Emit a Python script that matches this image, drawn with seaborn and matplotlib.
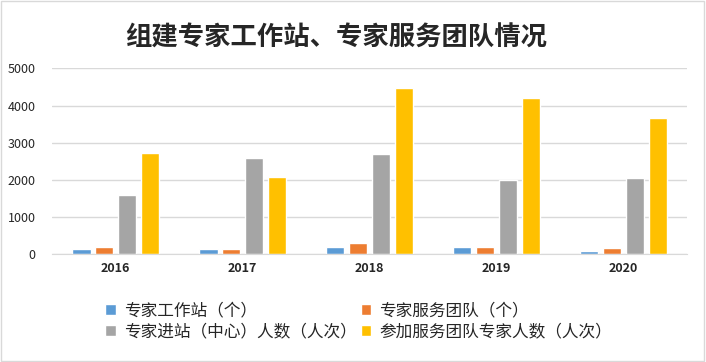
import numpy as np
import matplotlib
matplotlib.use("Agg")
import matplotlib.pyplot as plt
import pandas as pd
import seaborn as sns

# Data
years = ['2016', '2017', '2018', '2019', '2020']
series_names = ['专家工作站（个）', '专家服务团队（个）', '专家进站（中心）人数（人次）', '参加服务团队专家人数（人次）']
stations = [140, 140, 190, 190, 80]
teams = [190, 140, 305, 190, 160]
entrants = [1590, 2590, 2695, 1995, 2050]
team_experts = [2720, 2075, 4470, 4200, 3660]
colors = ['#5B9BD5', '#ED7D31', '#A5A5A5', '#FFC000']

rows = []
for name, vals in zip(series_names, [stations, teams, entrants, team_experts]):
    for y, v in zip(years, vals):
        rows.append({'year': y, 'series': name, 'value': v})
df = pd.DataFrame(rows)

sns.set_style('white')
plt.rcParams['font.family'] = ['Noto Sans CJK SC', 'DejaVu Sans']

fig = plt.figure(figsize=(7.06, 3.62), dpi=100)
ax = fig.add_axes([0.074, 0.298, 0.899, 0.513])
sns.barplot(data=df, x='year', y='value', hue='series', palette=colors,
            width=0.72, gap=0.2, saturation=1, ax=ax, legend=True)

ax.set_ylim(0, 5000)
ax.set_yticks(range(0, 5001, 1000))
ax.yaxis.grid(True, color='#D9D9D9', linewidth=1)
ax.set_axisbelow(True)
for s in ['top', 'right', 'left']:
    ax.spines[s].set_visible(False)
ax.spines['bottom'].set_color('#D9D9D9')
ax.set_xlabel('')
ax.set_ylabel('')
ax.tick_params(axis='both', length=0)
ax.tick_params(axis='y', labelsize=9, pad=12)
ax.tick_params(axis='x', labelsize=9, pad=6)
for lab in ax.get_xticklabels():
    lab.set_fontweight('bold')

# legend filled row by row, like the original
handles, labels = ax.get_legend_handles_labels()
ax.legend_.remove()
order = [0, 2, 1, 3]
fig.legend([handles[i] for i in order], [labels[i] for i in order], ncol=2,
           loc='upper left', bbox_to_anchor=(0.128, 0.205),
           frameon=False, fontsize=12, handlelength=0.65, handleheight=0.65,
           handletextpad=0.45, columnspacing=0.25, labelspacing=0.2)

fig.text(0.476, 0.895, '组建专家工作站、专家服务团队情况', ha='center', va='center',
         fontsize=19, fontweight='bold')

fig.patches.append(plt.Rectangle((0.002, 0.003), 0.995, 0.993, transform=fig.transFigure,
                                 fill=False, edgecolor='#D9D9D9', linewidth=1))

fig.savefig('out.png', dpi=100)
